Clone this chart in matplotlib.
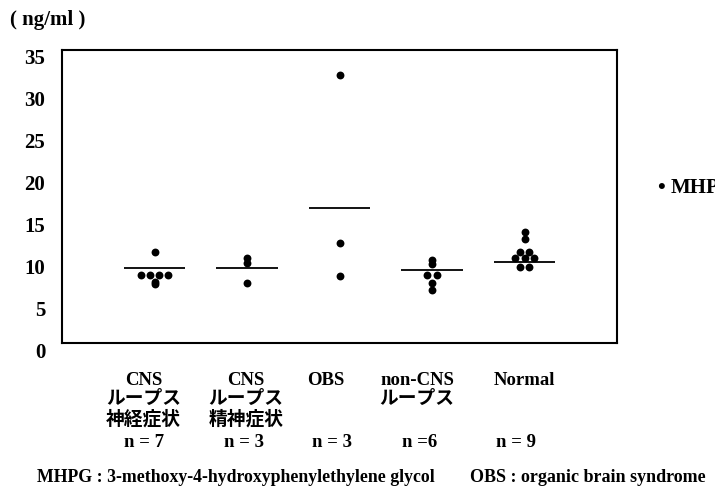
import matplotlib
matplotlib.use("Agg")
import matplotlib.pyplot as plt
import matplotlib.transforms as mtransforms
import numpy as np

plt.rcParams['font.family'] = ['Liberation Serif', 'Noto Sans CJK JP']

categories = ["CNS\nループス\n神経症状", "CNS\nループス\n精神症状", "OBS", "non-CNS\nループス", "Normal"]
n_labels = ["n = 7", "n = 3", "n = 3", "n =6", "n = 9"]

cns_neuro = [10.9, 8.1, 8.1, 8.1, 8.1, 7.3, 7.1]
cns_psych = [10.2, 9.6, 7.2]
obs = [32.0, 11.9, 8.0]
non_cns = [9.9, 9.4, 8.1, 8.1, 7.2, 6.3]
normal = [13.3, 12.4, 10.9, 10.9, 10.2, 10.2, 10.2, 9.1, 9.1]
groups = [cns_neuro, cns_psych, obs, non_cns, normal]
mean_lines = [9.0, 8.9, 16.1, 8.7, 9.7]

yticks = [0, 5, 10, 15, 20, 25, 30, 35]

# layout: horizontal pixel shifts of the category / n texts (as in the scanned original)
cat_shift_px = [-11, -1, -14, -15, 0]
n_shift_px = [-10, -3, -8, -12, -9]

fig = plt.figure(figsize=(7.15, 4.91), dpi=100)
ax = fig.add_axes([62/715, 1-343/491, (617-62)/715, (343-50)/491])

for i, vals in enumerate(groups):
    xpos = i + 1
    vals = np.array(vals)
    xs = np.full(len(vals), float(xpos))
    for v in np.unique(vals):
        idx = np.where(vals == v)[0]
        k = len(idx)
        for j, ii in enumerate(idx):
            xs[ii] = xpos + (j - (k - 1) / 2) * 0.1
    ax.scatter(xs, vals, s=32, color='black', zorder=3, linewidths=0)
    ax.hlines(mean_lines[i], xpos - 0.33, xpos + 0.33, color='black', lw=1.3)

ax.set_xlim(0, 6)
ax.set_ylim(0, 35)
ax.set_yticks(yticks)
ax.set_yticklabels([str(t) for t in yticks], fontsize=15, fontweight='bold')
ax.set_xticks([])
ax.tick_params(axis='y', length=0, pad=12)
offset = mtransforms.ScaledTranslation(0, -7/100, fig.dpi_scale_trans)
for lbl in ax.get_yticklabels():
    lbl.set_transform(lbl.get_transform() + offset)
for s in ax.spines.values():
    s.set_linewidth(1.5)

for i, lab in enumerate(categories):
    t1 = ax.transData + mtransforms.ScaledTranslation(cat_shift_px[i]/100, 0, fig.dpi_scale_trans)
    ax.text(i + 1, -3.5, lab, ha='center', va='top', fontsize=13.5, fontweight='bold',
            linespacing=1.15, transform=t1)
    t2 = ax.transData + mtransforms.ScaledTranslation(n_shift_px[i]/100, 0, fig.dpi_scale_trans)
    ax.text(i + 1, -10.9, n_labels[i], ha='center', va='top', fontsize=13.5, fontweight='bold',
            transform=t2)

fig.text(10/715, 1-20/491, "( ng/ml )", fontsize=15, fontweight='bold', va='center', ha='left')

fig.text(661/715, 1-188/491, "•", fontsize=16, fontweight='bold', va='center', ha='center')
fig.text(671/715, 1-188/491, "MHPG", fontsize=15, fontweight='bold', va='center', ha='left')

fig.text(37/715, 1-478/491, "MHPG : 3-methoxy-4-hydroxyphenylethylene glycol",
         fontsize=12.8, fontweight='bold', va='center', ha='left')
fig.text(470/715, 1-478/491, "OBS : organic brain syndrome",
         fontsize=13, fontweight='bold', va='center', ha='left')

fig.savefig("out.png", dpi=100)
